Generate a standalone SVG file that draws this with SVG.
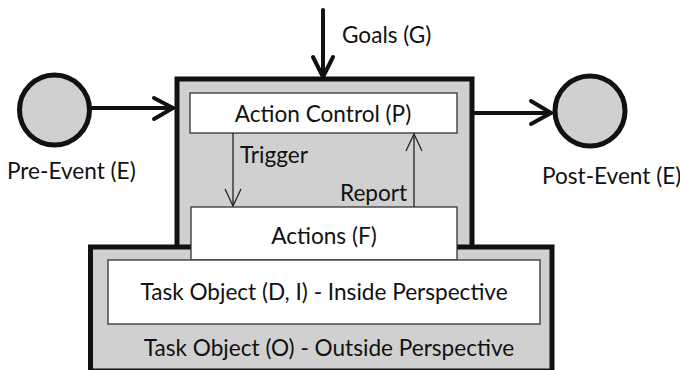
<svg xmlns="http://www.w3.org/2000/svg" width="680" height="370" viewBox="0 0 680 370">
  <style>
    .frame { fill: #d0d0d0; stroke: #111; stroke-width: 5; }
    .inner { fill: #fff; stroke: #333; stroke-width: 1.3; }
    .event { fill: #d0d0d0; stroke: #111; stroke-width: 5; }
    .label { font-family: Lato, "Liberation Sans", sans-serif; font-size: 22.6px; fill: #111; }
    .mid { text-anchor: middle; }
    .thick { stroke: #111; stroke-width: 4; fill: none; stroke-linecap: round; stroke-linejoin: round; }
    .thin { stroke: #222; stroke-width: 1.3; fill: none; }
  </style>

  <!-- process frame (upper) -->
  <g id="process">
    <rect class="frame" x="177" y="79" width="295" height="172"/>
  </g>

  <!-- task object, outside perspective -->
  <g id="task-object-outside">
    <rect class="frame" x="90.5" y="247" width="461.5" height="124"/>
    <text class="label mid" x="329" y="356">Task Object (O) - Outside Perspective</text>
  </g>

  <g id="action-control">
    <rect class="inner" x="190" y="93" width="267" height="40"/>
    <text class="label mid" x="323" y="122">Action Control (P)</text>
  </g>

  <g id="actions">
    <rect class="inner" x="191" y="207" width="266" height="53"/>
    <text class="label mid" x="324" y="244">Actions (F)</text>
  </g>

  <g id="task-object-inside">
    <rect class="inner" x="108" y="260" width="432" height="64"/>
    <text class="label mid" x="324" y="300">Task Object (D, I) - Inside Perspective</text>
  </g>

  <g id="pre-event">
    <circle class="event" cx="54.5" cy="110" r="35"/>
    <text class="label" x="7" y="179">Pre-Event (E)</text>
  </g>

  <g id="post-event">
    <circle class="event" cx="590" cy="111" r="35"/>
    <text class="label" x="542" y="184">Post-Event (E)</text>
  </g>

  <g id="connectors">
    <!-- goals input -->
    <line class="thick" x1="323" y1="10" x2="323" y2="77"/>
    <polyline class="thick" points="313,57 323,77 333,57"/>
    <text class="label" x="342" y="43">Goals (G)</text>

    <!-- pre-event into process -->
    <line class="thick" x1="91" y1="108" x2="173" y2="108"/>
    <polyline class="thick" points="154,98 173,108 154,119"/>

    <!-- process to post-event -->
    <line class="thick" x1="474" y1="113" x2="551" y2="113"/>
    <polyline class="thick" points="531,101 551,113 531,124"/>

    <!-- trigger -->
    <line class="thin" x1="233" y1="133" x2="233" y2="206"/>
    <polyline class="thin" points="225,189 233,206 241,189"/>
    <text class="label" x="240" y="163">Trigger</text>

    <!-- report -->
    <line class="thin" x1="414" y1="207" x2="414" y2="134"/>
    <polyline class="thin" points="406,151 414,134 422,151"/>
    <text class="label" x="340" y="201">Report</text>
  </g>
</svg>
